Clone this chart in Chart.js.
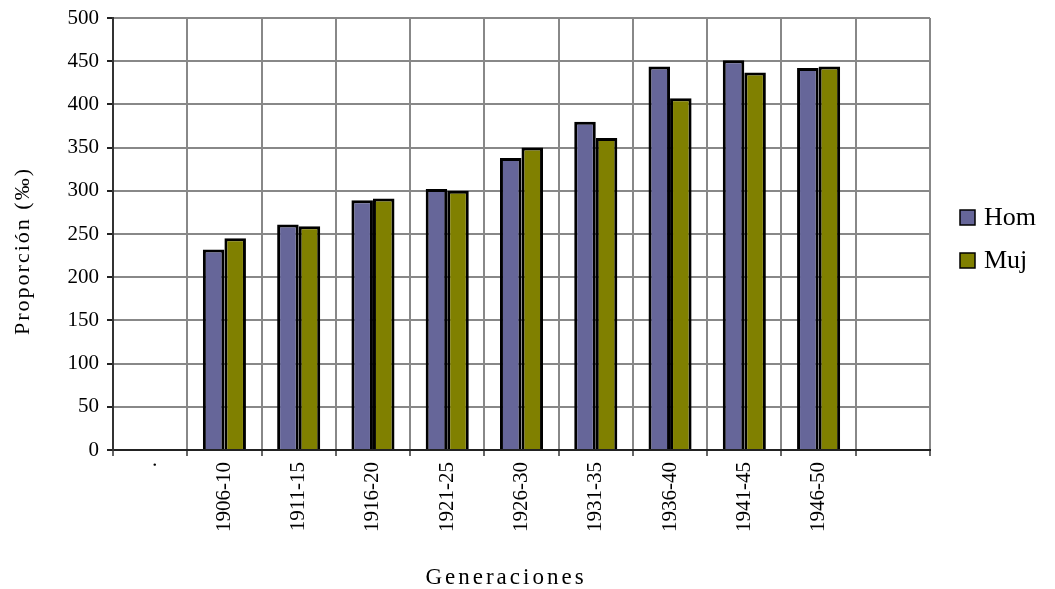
<!DOCTYPE html>
<html>
<head>
<meta charset="utf-8">
<script src="https://cdn.jsdelivr.net/npm/chart.js@4"></script>
<style>
  html, body { margin: 0; padding: 0; background: #fff; }
  #wrap { width: 1055px; height: 589px; }
</style>
</head>
<body>
<div id="wrap"><canvas id="myChart" width="1055" height="589"></canvas></div>
<script>
const generaciones = ['.', '1906-10', '1911-15', '1916-20', '1921-25', '1926-30', '1931-35', '1936-40', '1941-45', '1946-50', ''];
const hom = [null, 232, 261, 289, 302, 338, 380, 444, 451, 442, null];
const muj = [null, 245, 259, 291, 300, 350, 361, 407, 437, 444, null];
const yTicks = [0, 50, 100, 150, 200, 250, 300, 350, 400, 450, 500];
const seriesNames = ['Hom', 'Muj'];
const seriesColors = ['#666699', '#808000'];

const serif = '"Liberation Serif", "DejaVu Serif", serif';

// axis titles and legend drawn by hand so spacing matches the original
const extras = {
    id: 'extras',
    afterDraw(chart) {
        const c = chart.ctx;
        c.save();
        c.fillStyle = '#000';
        c.textAlign = 'center';
        c.textBaseline = 'middle';
        c.font = '23px ' + serif;
        c.letterSpacing = '3px';
        c.fillText('Generaciones', 506, 578);
        c.translate(23, 251);
        c.rotate(-Math.PI / 2);
        c.font = '22px ' + serif;
        c.letterSpacing = '2px';
        c.fillText('Proporción (‰)', 0, 0);
        c.restore();

        c.save();
        c.font = '26px ' + serif;
        c.textBaseline = 'middle';
        c.textAlign = 'left';
        seriesNames.forEach((name, i) => {
            const y = 217 + i * 43;
            c.fillStyle = seriesColors[i];
            c.fillRect(960, y - 7, 15, 15);
            c.strokeStyle = '#000';
            c.lineWidth = 1.5;
            c.strokeRect(960, y - 7, 15, 15);
            c.fillStyle = '#000';
            c.fillText(name, 984, y + 1);
        });
        c.restore();
    }
};

const ctx = document.getElementById('myChart').getContext('2d');
const myChart = new Chart(ctx, {
    type: 'bar',
    data: {
        labels: generaciones,
        datasets: [{
            label: seriesNames[0],
            data: hom,
            backgroundColor: seriesColors[0],
            borderColor: '#000',
            borderWidth: 3,
            borderSkipped: 'bottom'
        }, {
            label: seriesNames[1],
            data: muj,
            backgroundColor: seriesColors[1],
            borderColor: '#000',
            borderWidth: 3,
            borderSkipped: 'bottom'
        }]
    },
    options: {
        responsive: false,
        animation: false,
        devicePixelRatio: 1,
        datasets: {
            bar: { categoryPercentage: 0.58, barPercentage: 1.0 }
        },
        layout: { padding: { top: 18, right: 125, left: 0, bottom: 0 } },
        plugins: {
            tooltip: { enabled: false },
            legend: { display: false }
        },
        scales: {
            x: {
                afterFit: s => { s.height = 139; },
                grid: { color: '#888', lineWidth: 2, tickLength: 6, tickColor: '#666', offset: true },
                border: { color: '#222', width: 2 },
                ticks: {
                    color: '#000',
                    font: { family: serif, size: 21 },
                    minRotation: 90,
                    maxRotation: 90,
                    padding: 6,
                    autoSkip: false
                }
            },
            y: {
                min: 0,
                max: 500,
                afterBuildTicks: axis => { axis.ticks = yTicks.map(v => ({ value: v })); },
                afterFit: s => { s.width = 113; s.paddingTop = 0; },
                grid: { color: '#888', lineWidth: 2, tickLength: 6, tickColor: '#222' },
                border: { color: '#333', width: 2 },
                ticks: {
                    color: '#000',
                    font: { family: serif, size: 21 },
                    padding: 8
                }
            }
        }
    },
    plugins: [extras]
});
</script>
</body>
</html>
